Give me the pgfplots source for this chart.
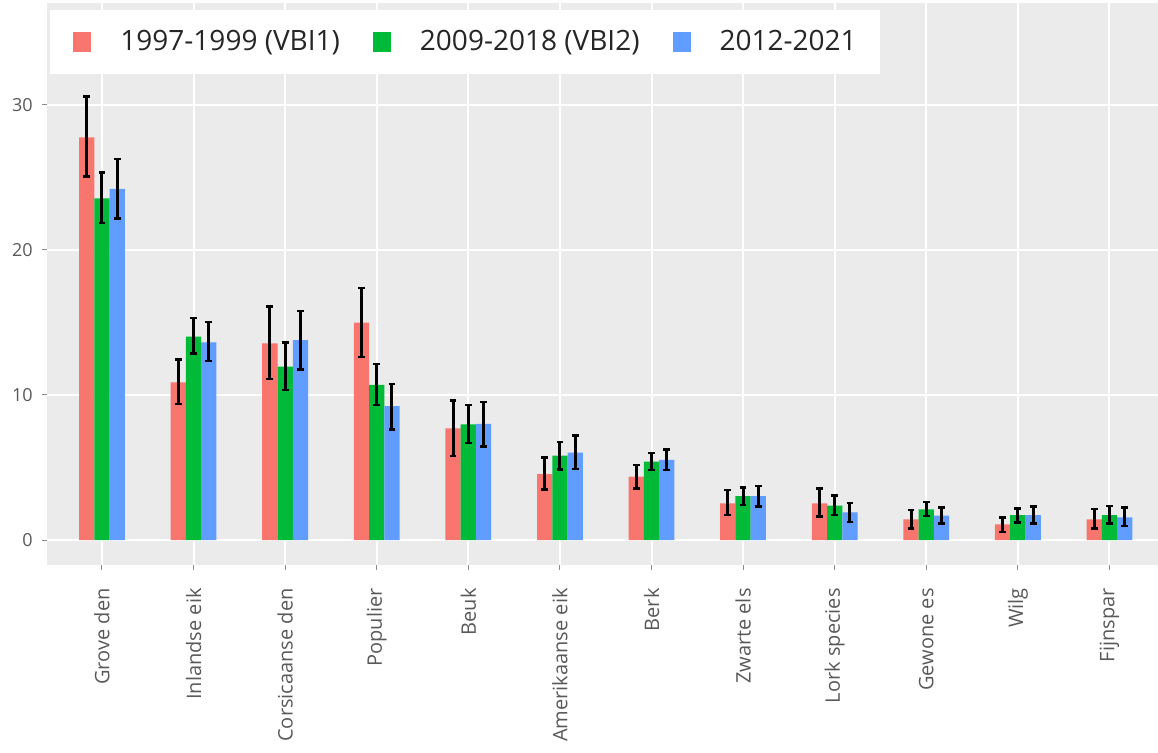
\documentclass[border=0pt]{standalone}
\usepackage{pgfplots}
\usepackage{pgfplotstable}
\pgfplotsset{compat=1.18}
\usepackage{fontspec}
\setmainfont{Open Sans}
\definecolor{cR}{HTML}{F8766D}
\definecolor{cG}{HTML}{00BA38}
\definecolor{cB}{HTML}{619CFF}
\definecolor{panel}{HTML}{EBEBEB}
\definecolor{tickc}{HTML}{595959}
\pgfplotstableread{
x r rlo rhi g glo ghi b blo bhi
0 27.77 25.06 30.57 23.56 21.84 25.33 24.21 22.18 26.28
1 10.87 9.36 12.46 14.02 12.87 15.29 13.63 12.34 15.03
2 13.56 11.10 16.09 11.95 10.34 13.61 13.79 11.77 15.81
3 14.99 12.60 17.36 10.69 9.31 12.14 9.24 7.63 10.76
4 7.70 5.79 9.61 7.97 6.67 9.29 8.00 6.44 9.52
5 4.55 3.49 5.68 5.82 4.87 6.76 6.02 4.90 7.20
6 4.37 3.56 5.17 5.40 4.83 5.98 5.52 4.83 6.25
7 2.53 1.72 3.45 3.03 2.41 3.63 3.03 2.30 3.72
8 2.53 1.61 3.56 2.37 1.72 3.06 1.91 1.26 2.57
9 1.43 0.80 2.07 2.11 1.66 2.64 1.68 1.15 2.23
10 1.08 0.57 1.56 1.72 1.22 2.18 1.72 1.15 2.30
11 1.43 0.80 2.14 1.72 1.15 2.34 1.56 0.97 2.25
}\data
\begin{document}
\begin{tikzpicture}
\useasboundingbox (0,0) rectangle (579pt,376pt);
\begin{axis}[
  at={(23.5pt,93.5pt)}, anchor=south west,
  scale only axis, width=555.5pt, height=281pt,
  xmin=-0.6, xmax=11.53, ymin=-1.724, ymax=37.03,
  axis background/.style={fill=panel},
  axis line style={draw=none},
  grid=major, major grid style={white, line width=1pt},
  xtick={0,...,11},
  xticklabels={Grove den,Inlandse eik,Corsicaanse den,Populier,Beuk,Amerikaanse eik,Berk,Zwarte els,Lork species,Gewone es,Wilg,Fijnspar},
  ytick={0,10,20,30},
  xtick pos=bottom, ytick pos=left,
  tick align=outside, major tick length=2.5pt,
  tick style={tickc!70, line width=0.5pt},
  xticklabel style={rotate=90, anchor=east, inner sep=0pt, font=\fontsize{10}{12}\selectfont, text=tickc},
  xticklabel shift=9pt,
  yticklabel style={inner sep=0pt, font=\fontsize{9}{11}\selectfont, text=tickc},
  yticklabel shift=4.5pt,
  /pgf/number format/assume math mode=true,
  ybar, bar width=0.1667,
  legend columns=3,
  legend cell align=left,
  legend image code/.code={\fill[#1,draw=none] (0pt,-5pt) rectangle (9pt,5pt);},
  legend style={at={(rel axis cs:0.0027,0.9875)}, anchor=north west, draw=none, fill=white,
    font=\fontsize{14}{17}\selectfont, text=black!85, inner xsep=11.5pt, inner ysep=8pt,
    nodes={inner xsep=0pt}},
  /tikz/every odd column/.append style={column sep=14.5pt},
  /tikz/every even column/.append style={column sep=16.5pt},
  error bars/y dir=both, error bars/y explicit,
  error bars/error bar style={black, line width=1.5pt},
  error bars/error mark options={black, line width=1.2pt, mark size=1.7pt, rotate=90},
]
\addplot[fill=cR, draw=none, bar shift=-0.1667] table[x=x, y=r, y error plus expr=\thisrow{rhi}-\thisrow{r}, y error minus expr=\thisrow{r}-\thisrow{rlo}] {\data};
\addlegendentry{1997-1999 (VBI1)}
\addplot[fill=cG, draw=none, bar shift=0] table[x=x, y=g, y error plus expr=\thisrow{ghi}-\thisrow{g}, y error minus expr=\thisrow{g}-\thisrow{glo}] {\data};
\addlegendentry{2009-2018 (VBI2)}
\addplot[fill=cB, draw=none, bar shift=0.1667] table[x=x, y=b, y error plus expr=\thisrow{bhi}-\thisrow{b}, y error minus expr=\thisrow{b}-\thisrow{blo}] {\data};
\addlegendentry{2012-2021}
\end{axis}
\end{tikzpicture}
\end{document}
